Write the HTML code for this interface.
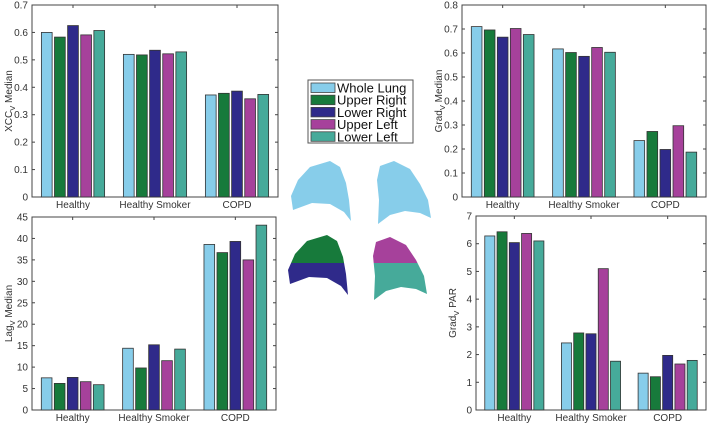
<!DOCTYPE html>
<html><head><meta charset="utf-8"><style>
body{margin:0;background:#fff;}
svg{display:block;font-family:"Liberation Sans",sans-serif;}
</style></head><body>
<svg id="fig" width="709" height="423" viewBox="0 0 709 423">
<g id="lungs">
<defs>
<clipPath id="clipTop"><rect x="280" y="220" width="160" height="43"/></clipPath>
<clipPath id="clipBot"><rect x="280" y="263" width="160" height="50"/></clipPath>
</defs>
<path fill="#87cdea" d="M298 180 L310 167 L330 161 L340 167 L346 183 L349 200 L351 221 L344 212 L330 204 L312 203 L293 210 L291 196 Z"/>
<path fill="#87cdea" d="M380 166 L394 161 L410 169 L420 184 L428 200 L431 218 L420 213 L405 211 L390 215 L378 224 L379 200 L377 180 Z"/>
</g>
<g id="axes"></g>
<g id="legend">
<rect x="308" y="80" width="105" height="63" fill="#fff" stroke="#555" stroke-width="1"/>
</g>
</svg>
<script>
const categories = ["Healthy", "Healthy Smoker", "COPD"];
const seriesNames = ["Whole Lung", "Upper Right", "Lower Right", "Upper Left", "Lower Left"];
const colors = ["#87cdea", "#177a3b", "#2f2a8a", "#a6419b", "#46aa9a"];
const xccWhole = [0.600, 0.520, 0.372];
const xccUR = [0.583, 0.518, 0.378];
const xccLR = [0.625, 0.535, 0.386];
const xccUL = [0.591, 0.522, 0.358];
const xccLL = [0.607, 0.529, 0.374];
const gradWhole = [0.710, 0.617, 0.235];
const gradUR = [0.696, 0.602, 0.273];
const gradLR = [0.666, 0.586, 0.198];
const gradUL = [0.702, 0.623, 0.297];
const gradLL = [0.677, 0.603, 0.187];
const lagWhole = [7.5, 14.4, 38.6];
const lagUR = [6.2, 9.8, 36.7];
const lagLR = [7.6, 15.2, 39.3];
const lagUL = [6.6, 11.5, 35.0];
const lagLL = [5.9, 14.2, 43.1];
const parWhole = [6.28, 2.42, 1.33];
const parUR = [6.43, 2.78, 1.20];
const parLR = [6.04, 2.75, 1.97];
const parUL = [6.37, 5.10, 1.66];
const parLL = [6.10, 1.76, 1.79];
const xccTicks = ["0","0.1","0.2","0.3","0.4","0.5","0.6","0.7"];
const gradTicks = ["0","0.1","0.2","0.3","0.4","0.5","0.6","0.7","0.8"];
const lagTicks = ["0","5","10","15","20","25","30","35","40","45"];
const parTicks = ["0","1","2","3","4","5","6","7"];

const NS = "http://www.w3.org/2000/svg";
function mk(tag, attrs, parent){const e=document.createElementNS(NS,tag);for(const k in attrs)e.setAttribute(k,attrs[k]);parent.appendChild(e);return e;}

function drawChart(name, box, ticks, maxV, series, ylabelMain, ylabelSub, ylabelRest){
  const root=document.getElementById("axes");
  const g=mk("g",{},root);
  
  
  const {x0,x1,y0,y1}=box;
  const yScale=v=>y1-(v/maxV)*(y1-y0);
  const xScale=v=>x0+(v-0.5)/3*(x1-x0);
  mk("rect",{x:x0,y:y0,width:x1-x0,height:y1-y0,fill:"none",stroke:"#444","stroke-width":1},g);
  ticks.forEach(t=>{
    const y=yScale(parseFloat(t));
    mk("line",{x1:x0,x2:x0+3,y1:y,y2:y,stroke:"#444"},g);
    mk("line",{x1:x1,x2:x1-3,y1:y,y2:y,stroke:"#444"},g);
    const tx=mk("text",{x:x0-4,y:y+3.5,"text-anchor":"end","font-size":"10",fill:"#333"},g);
    tx.textContent=t;
    
    
  });
  const groupW=(x1-x0)/3;
  const pitch=groupW*0.8/5;
  const bw=pitch*0.82;
  categories.forEach((c,ci)=>{
    const cx=xScale(ci+1);
    mk("line",{x1:cx,x2:cx,y1:y1,y2:y1-3,stroke:"#444"},g);
    mk("line",{x1:cx,x2:cx,y1:y0,y2:y0+3,stroke:"#444"},g);
    const lt=mk("text",{x:cx,y:y1+11,"text-anchor":"middle","font-size":"10",fill:"#333"},g);
    lt.textContent=c;
    
    
    series.forEach((s,si)=>{
      const bx=cx+(si-2)*pitch-bw/2;
      const yv=yScale(s[ci]);
      const r=mk("rect",{x:bx,y:yv,width:bw,height:y1-yv,fill:colors[si],stroke:"#333","stroke-width":0.8},g);
      
      
    });
  });
  const lx=x0-20, ly=(y0+y1)/2;
  const yl=mk("text",{transform:`translate(${lx},${ly}) rotate(-90)`,"text-anchor":"middle","font-size":"10",fill:"#333"},g);
  
  
  const t1=mk("tspan",{},yl);t1.textContent=ylabelMain;
  const t2=mk("tspan",{"font-size":"7.5",dy:"3"},yl);t2.textContent=ylabelSub;
  const t3=mk("tspan",{dy:"-3"},yl);t3.textContent=ylabelRest;
}

drawChart("xcc-median-chart",{x0:32,x1:278,y0:5,y1:197},xccTicks,0.7,[xccWhole,xccUR,xccLR,xccUL,xccLL],"XCC","V"," Median");
drawChart("grad-median-chart",{x0:462,x1:706,y0:5,y1:197},gradTicks,0.8,[gradWhole,gradUR,gradLR,gradUL,gradLL],"Grad","V"," Median");
drawChart("lag-median-chart",{x0:32,x1:276,y0:217,y1:410},lagTicks,45,[lagWhole,lagUR,lagLR,lagUL,lagLL],"Lag","V"," Median");
drawChart("grad-par-chart",{x0:476,x1:706,y0:216,y1:410},parTicks,7,[parWhole,parUR,parLR,parUL,parLL],"Grad","V"," PAR");

const leg=document.getElementById("legend");
seriesNames.forEach((n,i)=>{
  const y=83+i*12.2;
  const sw=mk("rect",{x:311,y:y,width:24,height:9.5,fill:colors[i],stroke:"#444","stroke-width":0.8},leg);
  
  
  const t=mk("text",{x:337,y:y+9.5,"font-size":"13",fill:"#111"},leg);
  t.textContent=n;
  
  
});

const lungs=document.getElementById("lungs");
const shapeL="M298 180 L310 167 L330 161 L340 167 L346 183 L349 200 L351 221 L344 212 L330 204 L312 203 L293 210 L291 196 Z";
const shapeR="M380 166 L394 161 L410 169 L420 184 L428 200 L431 218 L420 213 L405 211 L390 215 L378 224 L379 200 L377 180 Z";
function lobe(d,dx,dy,clip,fill,name){
  const g=mk("g",{"clip-path":`url(#${clip})`},lungs);
  const p=mk("path",{d:d,fill:fill,transform:`translate(${dx},${dy})`},g);
  
  
}
lobe(shapeL,-3,74,"clipTop",colors[1],"upper-right-lobe");
lobe(shapeL,-3,74,"clipBot",colors[2],"lower-right-lobe");
lobe(shapeR,-4,76,"clipTop",colors[3],"upper-left-lobe");
lobe(shapeR,-4,76,"clipBot",colors[4],"lower-left-lobe");
</script>
</body></html>
